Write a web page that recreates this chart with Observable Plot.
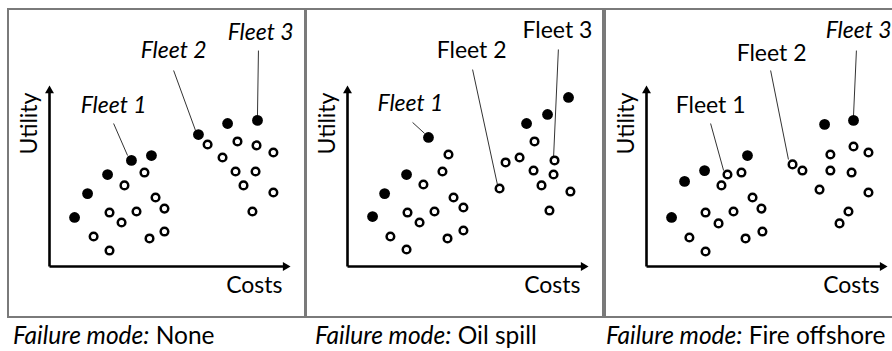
<!DOCTYPE html>
<html><head><meta charset="utf-8">
<script src="https://cdn.jsdelivr.net/npm/d3@7"></script>
<script src="https://cdn.jsdelivr.net/npm/@observablehq/plot@0.6"></script>
<style>
body{margin:0;background:#fff;width:892px;height:351px;overflow:hidden;position:relative;font-family:Lato,"Open Sans",sans-serif;}
.panel{position:absolute;top:8px;border:2px solid #7a7a7a;width:295px;height:306px;}
.panel svg{display:block;overflow:visible;}
.cap{position:absolute;top:320px;font-size:24.5px;line-height:30px;white-space:nowrap;color:#000;font-family:Lato,sans-serif;}
</style></head><body>
<script>
// ---- data (costs / utility, arbitrary units) ----
const failureModes = ["None", "Oil spill", "Fire offshore"];
const fleetNames = ["Fleet 1", "Fleet 2", "Fleet 3"];
const axisNames = ["Utility", "Costs"];

// Panel 1 — failure mode: None
const filled1 = [[1.04,2.71],[1.58,4.03],[2.41,5.08],[3.40,5.86],[4.23,6.13],[6.18,7.29],[7.39,7.90],[8.63,8.07]];
const open1 = [[3.94,5.19],[3.11,4.48],[4.40,3.81],[4.77,3.20],[2.49,2.98],[2.99,2.43],[3.61,3.04],[1.83,1.66],[2.49,0.88],[4.15,1.55],[4.77,1.93],
               [6.56,6.74],[7.80,6.91],[8.59,6.69],[9.29,6.30],[7.18,6.02],[7.72,5.25],[8.55,5.25],[8.05,4.48],[9.29,4.09],[8.42,3.04]];
const labelPos1 = [[2.66,8.90],[5.15,11.93],[8.76,12.93]];
const leaders1 = [[2.66,7.90,3.24,6.13],[5.15,10.83,6.06,7.51],[8.67,11.93,8.63,8.34]];
const italic1 = [true, true, true];

// Panel 2 — failure mode: Oil spill
const filled2 = [[1.04,2.76],[1.54,4.03],[2.45,5.08],[3.36,7.13],[7.43,7.90],[8.30,8.40],[9.17,9.34]];
const open2 = [[4.19,6.19],[3.94,5.25],[3.15,4.53],[4.40,3.81],[4.81,3.26],[2.49,2.98],[2.99,2.43],[3.61,3.04],[1.78,1.66],[2.45,0.94],[4.15,1.55],[4.81,1.99],
               [6.31,4.31],[6.56,5.75],[7.14,6.02],[7.76,6.91],[7.72,5.30],[8.59,5.86],[8.55,5.08],[8.05,4.48],[9.25,4.14],[8.38,3.09]];
const labelPos2 = [[2.61,9.01],[5.15,11.93],[8.71,13.04]];
const leaders2 = [[2.70,7.96,3.20,7.35],[5.19,10.88,6.22,4.53],[8.75,11.99,8.55,6.02]];
const italic2 = [true, false, false];

// Panel 3 — failure mode: Fire offshore
const filled3 = [[1.04,2.71],[1.58,4.70],[2.41,5.30],[4.19,6.13],[7.39,7.85],[8.59,8.07]];
const open3 = [[3.36,5.08],[3.94,5.19],[3.11,4.48],[4.40,3.81],[4.77,3.20],[2.45,2.98],[2.99,2.38],[3.61,3.04],[1.78,1.60],[2.45,0.83],[4.11,1.55],[4.81,1.93],
               [6.06,5.64],[6.47,5.30],[7.63,6.19],[8.59,6.63],[9.21,6.30],[7.63,5.30],[8.51,5.19],[7.18,4.25],[9.21,4.09],[8.38,3.04],[8.01,2.38]];
const labelPos3 = [[2.66,8.90],[5.19,11.77],[8.80,13.04]];
const leaders3 = [[2.66,7.90,3.20,5.30],[5.15,10.83,5.89,5.91],[8.71,11.93,8.59,8.34]];
const italic3 = [false, false, true];

// axes drawn as lines with small filled triangular heads
const axisLines = [{x1:0,y1:0,x2:9.85,y2:0},{x1:0,y1:0,x2:0,y2:9.8}];
const axisHeads = [{x:9.79,y:0,rot:90},{x:0,y:9.72,rot:0}];
const utilityPos = [{t:axisNames[0], x:-0.83, y:7.9}];
const costsPos = [{t:axisNames[1], x:8.5, y:-1.05}];

const panels = [
  {filled:filled1, open:open1, labelPos:labelPos1, leaders:leaders1, italic:italic1, left:7, capLeft:13},
  {filled:filled2, open:open2, labelPos:labelPos2, leaders:leaders2, italic:italic2, left:305, capLeft:315},
  {filled:filled3, open:open3, labelPos:labelPos3, leaders:leaders3, italic:italic3, left:604, capLeft:606}
];

panels.forEach((p, i) => {
  const lab = fleetNames.map((n, k) => ({name:n, x:p.labelPos[k][0], y:p.labelPos[k][1], it:p.italic[k]}));
  const lead = p.leaders.map(([x1,y1,x2,y2]) => ({x1,y1,x2,y2}));
  const txt = {x:"x", y:"y", text:"name", fontSize:23, fill:"#000"};
  const chart = Plot.plot({
    width:295, height:306,
    marginLeft:40, marginRight:14, marginTop:75, marginBottom:50,
    x:{domain:[0,10], axis:null},
    y:{domain:[0,10], axis:null},
    style:{overflow:"visible", fontFamily:"Lato, sans-serif", background:"white"},
    marks:[
      Plot.link(axisLines, {x1:"x1", y1:"y1", x2:"x2", y2:"y2", stroke:"black", strokeWidth:2.6}),
      Plot.dot(axisHeads, {x:"x", y:"y", rotate:"rot", symbol:"triangle", r:3.3, fill:"black", stroke:"none"}),
      Plot.link(lead, {x1:"x1", y1:"y1", x2:"x2", y2:"y2", stroke:"#333", strokeWidth:1}),
      Plot.dot(p.open, {x:d=>d[0], y:d=>d[1], r:3.8, stroke:"black", strokeWidth:2.5, fill:"white"}),
      Plot.dot(p.filled, {x:d=>d[0], y:d=>d[1], r:5.4, fill:"black", stroke:"none"}),
      Plot.text(lab.filter(d=>d.it), {...txt, fontStyle:"italic"}),
      Plot.text(lab.filter(d=>!d.it), txt),
      Plot.text(utilityPos, {x:"x", y:"y", text:"t", rotate:-90, fontSize:23, fill:"#000"}),
      Plot.text(costsPos, {x:"x", y:"y", text:"t", fontSize:23, fill:"#000"})
    ]
  });
  const div = document.createElement("div");
  div.className = "panel";
  div.style.left = p.left + "px";
  div.appendChild(chart);
  document.body.appendChild(div);

  const cap = document.createElement("div");
  cap.className = "cap";
  cap.style.left = p.capLeft + "px";
  const it = document.createElement("i");
  it.textContent = "Failure mode:";
  cap.appendChild(it);
  cap.appendChild(document.createTextNode(" " + failureModes[i]));
  document.body.appendChild(cap);
});
</script>
</body></html>
